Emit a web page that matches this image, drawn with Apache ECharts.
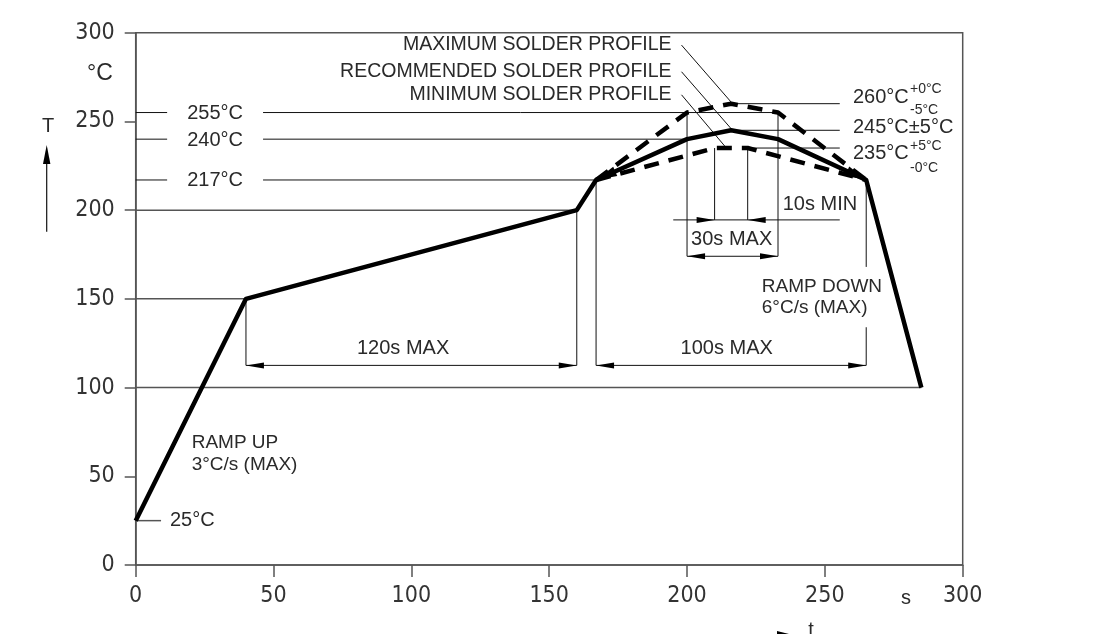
<!DOCTYPE html>
<html>
<head>
<meta charset="utf-8">
<script src="https://cdn.jsdelivr.net/npm/echarts@6/dist/echarts.min.js"></script>
<style>html,body{margin:0;padding:0;background:#fff;}#c{width:1110px;height:634px;}</style>
</head>
<body>
<div id="c"></div>
<script>
// ---- data ----
const recTime = [0, 40, 160, 167, 200, 216, 233, 265, 285];
const recTemp = [25, 150, 200, 217, 240, 245, 240, 217, 100];
const maxTime = [167, 200, 216, 233, 265];
const maxTemp = [217, 255, 260, 255, 217];
const minTime = [167, 210, 222, 265];
const minTemp = [217, 235, 235, 217];
const leftRefTemps = [255, 240, 217];
const leftRefEnds = [233, 200, 167];
const rightRefTemps = [260, 245, 235];
const rightRefStarts = [216, 216, 222];
const dimLevel = 112.5;      // 120s / 100s dimension line
const dim30Level = 174;
const dim10Level = 194.5;
const xTicks = [0, 50, 100, 150, 200, 250, 300];
const yTicks = [0, 50, 100, 150, 200, 250, 300];

const FONT = 'Liberation Sans';
const NFONT = '"DejaVu Sans Condensed", "Liberation Sans Narrow", "Liberation Sans", sans-serif';
const INK = '#2a2a2a';

// thin annotation segments [x1,y1,x2,y2]
const thin = [];
const grey = [];
leftRefTemps.forEach((t, i) => { thin.push([0, t, 11.4, t]); thin.push([46.2, t, leftRefEnds[i], t]); });
grey.push([0, 200, 160, 200]);
grey.push([0, 150, 40, 150]);
grey.push([0, 100, 285, 100]);
grey.push([0, 25, 9.2, 25]);
rightRefTemps.forEach((t, i) => thin.push([rightRefStarts[i], t, 255.4, t]));
thin.push([40, 150, 40, dimLevel]);
thin.push([160, 200, 160, dimLevel]);
thin.push([167, 217, 167, dimLevel]);
thin.push([265, 217, 265, 168]);
thin.push([265, 134, 265, dimLevel]);
thin.push([40, dimLevel, 160, dimLevel]);
thin.push([167, dimLevel, 265, dimLevel]);
thin.push([200, 255, 200, dim30Level]);
thin.push([233, 255, 233, dim30Level]);
thin.push([200, dim30Level, 233, dim30Level]);
thin.push([210, 235, 210, dim10Level]);
thin.push([222, 235, 222, dim10Level]);
thin.push([195, dim10Level, 255.4, dim10Level]);
// leaders from profile labels
thin.push([198, 293, 216.5, 260]);
thin.push([198, 278, 216.5, 245]);
thin.push([198, 265, 214, 235.5]);

// arrowheads [fromX, fromY, tipX, tipY]
const bigArrows = [[200, 240, 167, 217], [233, 240, 265, 217]];
const smallArrows = [
  [160, dimLevel, 40, dimLevel], [40, dimLevel, 160, dimLevel],
  [265, dimLevel, 167, dimLevel], [167, dimLevel, 265, dimLevel],
  [233, dim30Level, 200, dim30Level], [200, dim30Level, 233, dim30Level],
  [195, dim10Level, 210, dim10Level], [240, dim10Level, 222, dim10Level]
];

function segRender(color, width) {
  return function (params, api) {
    const a = api.coord([api.value(0), api.value(1)]);
    const b = api.coord([api.value(2), api.value(3)]);
    return { type: 'line', shape: { x1: a[0], y1: a[1], x2: b[0], y2: b[1] },
      style: { stroke: color, lineWidth: width } };
  };
}
function arrowRender(len, wid) {
  return function (params, api) {
    const a = api.coord([api.value(0), api.value(1)]);
    const b = api.coord([api.value(2), api.value(3)]);
    const dx = b[0] - a[0], dy = b[1] - a[1], L = Math.hypot(dx, dy);
    const ux = dx / L, uy = dy / L, px = -uy, py = ux;
    const bx = b[0] - ux * len, by = b[1] - uy * len;
    return { type: 'polygon', shape: { points: [[b[0], b[1]],
      [bx + px * wid / 2, by + py * wid / 2], [bx - px * wid / 2, by - py * wid / 2]] },
      style: { fill: '#000' } };
  };
}

const chart = echarts.init(document.getElementById('c'), null, { renderer: 'canvas' });
const option = {
  animation: false,
  backgroundColor: '#fff',
  grid: { left: 135.7, right: 147.3, top: 32.7, bottom: 69, show: true,
    borderColor: '#555', borderWidth: 1.5, containLabel: false, outerBoundsMode: 'none' },
  xAxis: {
    type: 'value', min: xTicks[0], max: xTicks[xTicks.length - 1], interval: xTicks[1] - xTicks[0],
    axisLine: { show: true, lineStyle: { color: '#555', width: 1.5 } },
    axisTick: { show: true, inside: false, length: 12, lineStyle: { color: '#555', width: 1.5 } },
    axisLabel: { show: true, margin: 20, color: '#333', fontFamily: NFONT, fontSize: 23 },
    splitLine: { show: false }
  },
  yAxis: {
    type: 'value', min: yTicks[0], max: yTicks[yTicks.length - 1], interval: yTicks[1] - yTicks[0],
    axisLine: { show: true, lineStyle: { color: '#555', width: 1.5 } },
    axisTick: { show: true, inside: false, length: 11, lineStyle: { color: '#555', width: 1.5 } },
    axisLabel: { show: true, margin: 21, color: '#333', fontFamily: NFONT, fontSize: 23 },
    splitLine: { show: false }
  },
  series: [
    { type: 'custom', name: 'grey', data: grey, encode: { x: [0, 2], y: [1, 3] }, clip: false, z: 2,
      renderItem: segRender('#555', 1.5) },
    { type: 'custom', name: 'thin', data: thin, encode: { x: [0, 2], y: [1, 3] }, clip: false, z: 2,
      renderItem: segRender('#111', 1) },
    { type: 'line', name: 'max', data: maxTime.map((t, i) => [t, maxTemp[i]]), showSymbol: false, symbol: 'none',
      lineStyle: { color: '#000', width: 4.5, type: [15, 10] }, z: 3 },
    { type: 'line', name: 'min', data: minTime.map((t, i) => [t, minTemp[i]]), showSymbol: false, symbol: 'none',
      lineStyle: { color: '#000', width: 4.5, type: [15, 10] }, z: 3 },
    { type: 'line', name: 'rec', data: recTime.map((t, i) => [t, recTemp[i]]), showSymbol: false, symbol: 'none',
      lineStyle: { color: '#000', width: 4.5, join: 'round' }, z: 4 },
    { type: 'custom', name: 'bigArrows', data: bigArrows, encode: { x: [0, 2], y: [1, 3] }, clip: false, z: 5,
      renderItem: arrowRender(21, 10) },
    { type: 'custom', name: 'smallArrows', data: smallArrows, encode: { x: [0, 2], y: [1, 3] }, clip: false, z: 5,
      renderItem: arrowRender(18, 6) }
  ]
};
chart.setOption(option);

function P(x, y) { return chart.convertToPixel({ gridIndex: 0 }, [x, y]); }
function T(text, x, y, size, align, vAlign, dx, dy, fam) {
  const p = P(x, y);
  return { type: 'text', x: p[0] + (dx || 0), y: p[1] + (dy || 0), silent: true, z: 10,
    style: { text: text, fill: INK, font: (size) + 'px "' + (fam || FONT) + '"',
      align: align || 'left', verticalAlign: vAlign || 'middle' } };
}
function A(text, x, y, size, align, vAlign, fam) {
  return { type: 'text', x: x, y: y, silent: true, z: 10,
    style: { text: text, fill: INK, font: size + 'px "' + (fam || FONT) + '"',
      align: align || 'left', verticalAlign: vAlign || 'middle' } };
}

const g = [];
leftRefTemps.forEach(t => g.push(T(t + '°C', 28.8, t, 20, 'center', 'middle', 0, 1)));
g.push(T('25°C', 12.4, 25, 20, 'left', 'middle'));
g.push(T('RAMP UP', 20.3, 68.8, 19, 'left', 'middle'));
g.push(T('3°C/s (MAX)', 20.3, 56.4, 19, 'left', 'middle'));
g.push(T('120s MAX', 97, 122.1, 20, 'center', 'middle'));
g.push(T('100s MAX', 214.4, 122.1, 20, 'center', 'middle'));
g.push(T('RAMP DOWN', 227.1, 156.9, 19, 'left', 'middle'));
g.push(T('6°C/s (MAX)', 227.1, 144.9, 19, 'left', 'middle'));
g.push(T('30s MAX', 216.2, 183.2, 20, 'center', 'middle'));
g.push(T('10s MIN', 248.2, 203, 20, 'center', 'middle'));
g.push(T('MAXIMUM SOLDER PROFILE', 194.4, 293.1, 19.5, 'right', 'middle'));
g.push(T('RECOMMENDED SOLDER PROFILE', 194.4, 278.1, 19.5, 'right', 'middle'));
g.push(T('MINIMUM SOLDER PROFILE', 194.4, 265, 19.5, 'right', 'middle'));
// right-hand temperature labels
g.push(T('260°C', 260.2, 260, 20, 'left', 'middle', 0, -6));
g.push(T('+0°C', 260.2, 260, 14, 'left', 'middle', 57, -15));
g.push(T('-5°C', 260.2, 260, 14, 'left', 'middle', 57, 6));
g.push(T('245°C±5°C', 260.2, 245, 20, 'left', 'middle', 0, -3));
g.push(T('235°C', 260.2, 235, 20, 'left', 'middle', 0, 5));
g.push(T('+5°C', 260.2, 235, 14, 'left', 'middle', 57, -2));
g.push(T('-0°C', 260.2, 235, 14, 'left', 'middle', 57, 20));
// axis captions
g.push(A('°C', 100, 74, 23, 'center', 'middle'));
g.push(A('T', 48, 126, 20, 'center', 'middle'));
g.push({ type: 'line', shape: { x1: 46.7, y1: 231.7, x2: 46.7, y2: 160 }, style: { stroke: '#111', lineWidth: 1.2 }, silent: true });
g.push({ type: 'polygon', shape: { points: [[46.7, 145], [43, 164], [50.4, 164]] }, style: { fill: '#000' }, silent: true });
g.push(A('s', 906, 598, 20, 'center', 'middle'));
g.push(A('t', 811, 630, 20, 'center', 'middle'));
g.push({ type: 'polygon', shape: { points: [[777, 631], [797, 636], [777, 641]] }, style: { fill: '#000' }, silent: true });

chart.setOption({ graphic: { elements: g } });
</script>
</body>
</html>
